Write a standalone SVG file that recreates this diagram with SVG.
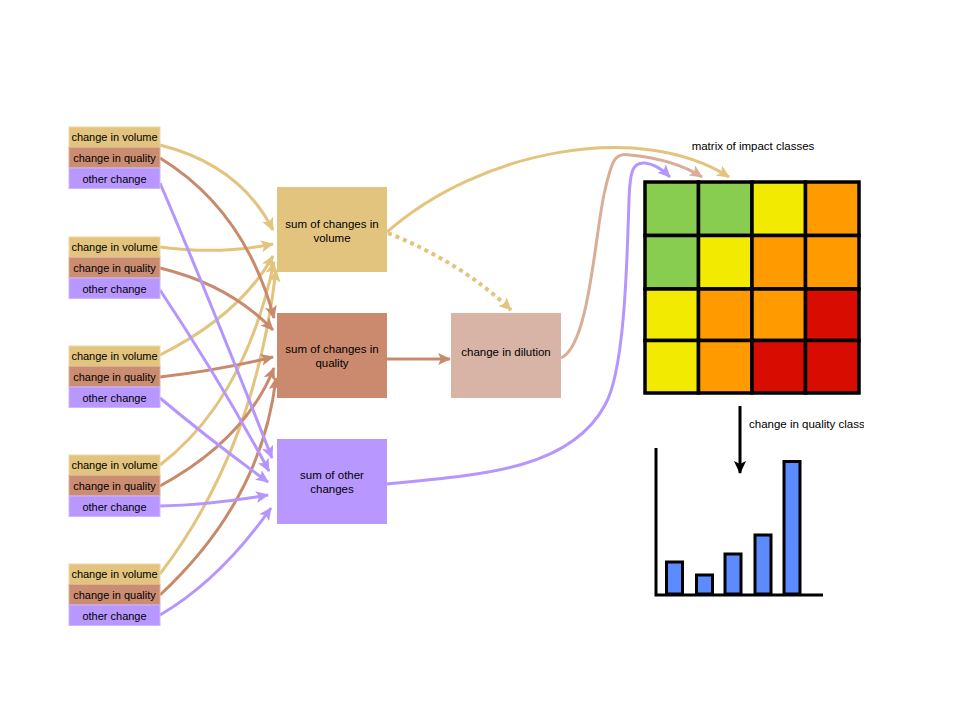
<svg xmlns="http://www.w3.org/2000/svg" width="960" height="720" viewBox="0 0 960 720">
<style>
text{font-family:"Liberation Sans",Arial,sans-serif;fill:#000}
.lbl{font-size:11px;text-anchor:middle}
.bx{font-size:11.5px;text-anchor:middle}
.vol{fill:#E3C47E;stroke:#EDD6A4;stroke-width:1}
.qua{fill:#CB8D71;stroke:#DDB09C;stroke-width:1}
.oth{fill:#B898FF;stroke:#CDB6FF;stroke-width:1}
.cv{stroke:#E3C47E}
.cq{stroke:#C98A6C}
.co{stroke:#B596FF}
.cd{stroke:#D8AE98}
.conn path{fill:none;stroke-width:3}
.cell{stroke:#000;stroke-width:3.5}
.bar{fill:#5B8BFF;stroke:#000;stroke-width:3}
</style>
<defs>
<marker id="av" markerUnits="userSpaceOnUse" markerWidth="14" markerHeight="12" refX="12" refY="6" orient="auto"><path d="M0,0 L13,6 L0,12 L3,6 z" fill="#E3C47E"/></marker>
<marker id="aq" markerUnits="userSpaceOnUse" markerWidth="14" markerHeight="12" refX="12" refY="6" orient="auto"><path d="M0,0 L13,6 L0,12 L3,6 z" fill="#C98A6C"/></marker>
<marker id="ao" markerUnits="userSpaceOnUse" markerWidth="14" markerHeight="12" refX="12" refY="6" orient="auto"><path d="M0,0 L13,6 L0,12 L3,6 z" fill="#B596FF"/></marker>
<marker id="ad" markerUnits="userSpaceOnUse" markerWidth="14" markerHeight="12" refX="12" refY="6" orient="auto"><path d="M0,0 L13,6 L0,12 L3,6 z" fill="#D8AE98"/></marker>
<marker id="ak" markerUnits="userSpaceOnUse" markerWidth="14" markerHeight="12" refX="12" refY="6" orient="auto"><path d="M0,0 L13,6 L0,12 L3,6 z" fill="#000"/></marker>
<clipPath id="clipq"><rect x="740" y="405" width="124" height="30"/></clipPath>
</defs>

<g id="connectors" class="conn">
<path class="cv" d="M160,145 Q240,165 273,230" marker-end="url(#av)"/>
<path class="cv" d="M160,247 Q220,255 273,244" marker-end="url(#av)"/>
<path class="cv" d="M160,355 Q240,315 273,256" marker-end="url(#av)"/>
<path class="cv" d="M160,465 Q245,400 274,262" marker-end="url(#av)"/>
<path class="cv" d="M160,574 Q255,450 276,270" marker-end="url(#av)"/>
<path class="cq" d="M160,158 Q245,210 274,318" marker-end="url(#aq)"/>
<path class="cq" d="M160,268 Q230,285 273,330" marker-end="url(#aq)"/>
<path class="cq" d="M160,377 Q220,370 273,357" marker-end="url(#aq)"/>
<path class="cq" d="M160,486 Q245,440 274,368" marker-end="url(#aq)"/>
<path class="cq" d="M160,595 Q262,500 276,378" marker-end="url(#aq)"/>
<path class="co" d="M160,183 Q210,300 272,458" marker-end="url(#ao)"/>
<path class="co" d="M160,290 Q220,380 269,471" marker-end="url(#ao)"/>
<path class="co" d="M160,398 Q210,440 268,482" marker-end="url(#ao)"/>
<path class="co" d="M160,506 Q210,505 268,495" marker-end="url(#ao)"/>
<path class="co" d="M160,615 Q220,580 271,508" marker-end="url(#ao)"/>
<path class="cv" d="M387,232 C480,150 640,120 729,177" marker-end="url(#av)"/>
<path class="cv" d="M388,233 Q462,263 511,310" stroke-width="4" stroke-dasharray="4,4" style="stroke-width:4" marker-end="url(#av)"/>
<path class="cq" d="M387,359 L450,359" marker-end="url(#aq)"/>
<path class="cd" d="M561,358 C590,345 595,230 605,190 C612,160 615,152 630,155 C660,158 685,166 702,177" marker-end="url(#ad)"/>
<path class="co" d="M387,484 C480,475 570,470 605,405 C625,370 627,260 629,200 C630,170 633,162 645,163 C655,164 663,170 670,177" marker-end="url(#ao)"/>
<path d="M740,406 L740,473" stroke="#000" stroke-width="3" marker-end="url(#ak)"/>
</g>

<g id="group1">
<rect class="vol" x="69" y="127" width="91" height="20.5"/><text class="lbl" x="114.5" y="141">change in volume</text>
<rect class="qua" x="69" y="147.5" width="91" height="20.5"/><text class="lbl" x="114.5" y="162">change in quality</text>
<rect class="oth" x="69" y="168" width="91" height="20.5"/><text class="lbl" x="114.5" y="182.5">other change</text>
</g>
<g id="group2">
<rect class="vol" x="69" y="237" width="91" height="20.5"/><text class="lbl" x="114.5" y="251">change in volume</text>
<rect class="qua" x="69" y="257.5" width="91" height="20.5"/><text class="lbl" x="114.5" y="272">change in quality</text>
<rect class="oth" x="69" y="278" width="91" height="20.5"/><text class="lbl" x="114.5" y="292.5">other change</text>
</g>
<g id="group3">
<rect class="vol" x="69" y="346" width="91" height="20.5"/><text class="lbl" x="114.5" y="360">change in volume</text>
<rect class="qua" x="69" y="366.5" width="91" height="20.5"/><text class="lbl" x="114.5" y="381">change in quality</text>
<rect class="oth" x="69" y="387" width="91" height="20.5"/><text class="lbl" x="114.5" y="401.5">other change</text>
</g>
<g id="group4">
<rect class="vol" x="69" y="455" width="91" height="20.5"/><text class="lbl" x="114.5" y="469">change in volume</text>
<rect class="qua" x="69" y="475.5" width="91" height="20.5"/><text class="lbl" x="114.5" y="490">change in quality</text>
<rect class="oth" x="69" y="496" width="91" height="20.5"/><text class="lbl" x="114.5" y="510.5">other change</text>
</g>
<g id="group5">
<rect class="vol" x="69" y="564" width="91" height="20.5"/><text class="lbl" x="114.5" y="578">change in volume</text>
<rect class="qua" x="69" y="584.5" width="91" height="20.5"/><text class="lbl" x="114.5" y="599">change in quality</text>
<rect class="oth" x="69" y="605" width="91" height="20.5"/><text class="lbl" x="114.5" y="619.5">other change</text>
</g>

<g id="sum-volume">
<rect x="277" y="187" width="110" height="85" fill="#E3C47E"/>
<text class="bx" x="332" y="228">sum of changes in</text>
<text class="bx" x="332" y="242">volume</text>
</g>
<g id="sum-quality">
<rect x="277" y="313" width="110" height="85" fill="#CB8A6E"/>
<text class="bx" x="332" y="353">sum of changes in</text>
<text class="bx" x="332" y="367">quality</text>
</g>
<g id="sum-other">
<rect x="277" y="439" width="110" height="85" fill="#B898FF"/>
<text class="bx" x="332" y="479">sum of other</text>
<text class="bx" x="332" y="493">changes</text>
</g>
<g id="dilution">
<rect x="451" y="313" width="110" height="85" fill="#D8B4A6"/>
<text class="bx" x="506" y="356">change in dilution</text>
</g>

<g id="matrix">
<text class="bx" x="753" y="150">matrix of impact classes</text>
<rect class="cell" x="645" y="182" width="53.5" height="53.5" fill="#88CC50"/>
<rect class="cell" x="698.5" y="182" width="53.5" height="53.5" fill="#88CC50"/>
<rect class="cell" x="752" y="182" width="53.5" height="53.5" fill="#F2EA00"/>
<rect class="cell" x="805.5" y="182" width="53.5" height="53.5" fill="#FF9A00"/>
<rect class="cell" x="645" y="235.5" width="53.5" height="53.5" fill="#88CC50"/>
<rect class="cell" x="698.5" y="235.5" width="53.5" height="53.5" fill="#F2EA00"/>
<rect class="cell" x="752" y="235.5" width="53.5" height="53.5" fill="#FF9A00"/>
<rect class="cell" x="805.5" y="235.5" width="53.5" height="53.5" fill="#FF9A00"/>
<rect class="cell" x="645" y="289" width="53.5" height="51.5" fill="#F2EA00"/>
<rect class="cell" x="698.5" y="289" width="53.5" height="51.5" fill="#FF9A00"/>
<rect class="cell" x="752" y="289" width="53.5" height="51.5" fill="#FF9A00"/>
<rect class="cell" x="805.5" y="289" width="53.5" height="51.5" fill="#D80C00"/>
<rect class="cell" x="645" y="340.5" width="53.5" height="52.5" fill="#F2EA00"/>
<rect class="cell" x="698.5" y="340.5" width="53.5" height="52.5" fill="#FF9A00"/>
<rect class="cell" x="752" y="340.5" width="53.5" height="52.5" fill="#D80C00"/>
<rect class="cell" x="805.5" y="340.5" width="53.5" height="52.5" fill="#D80C00"/>
</g>

<g id="quality-class-label">
<text x="749" y="428" style="font-size:11.5px" clip-path="url(#clipq)">change in quality class</text>
</g>

<g id="bar-chart">
<path d="M656,448 L656,595 L823,595" fill="none" stroke="#000" stroke-width="3"/>
<rect class="bar" x="666.5" y="562" width="16" height="32"/>
<rect class="bar" x="696.5" y="575" width="16" height="19"/>
<rect class="bar" x="725" y="554" width="16" height="40"/>
<rect class="bar" x="755" y="535" width="16" height="59"/>
<rect class="bar" x="784" y="461.5" width="16" height="132.5"/>
</g>
</svg>
